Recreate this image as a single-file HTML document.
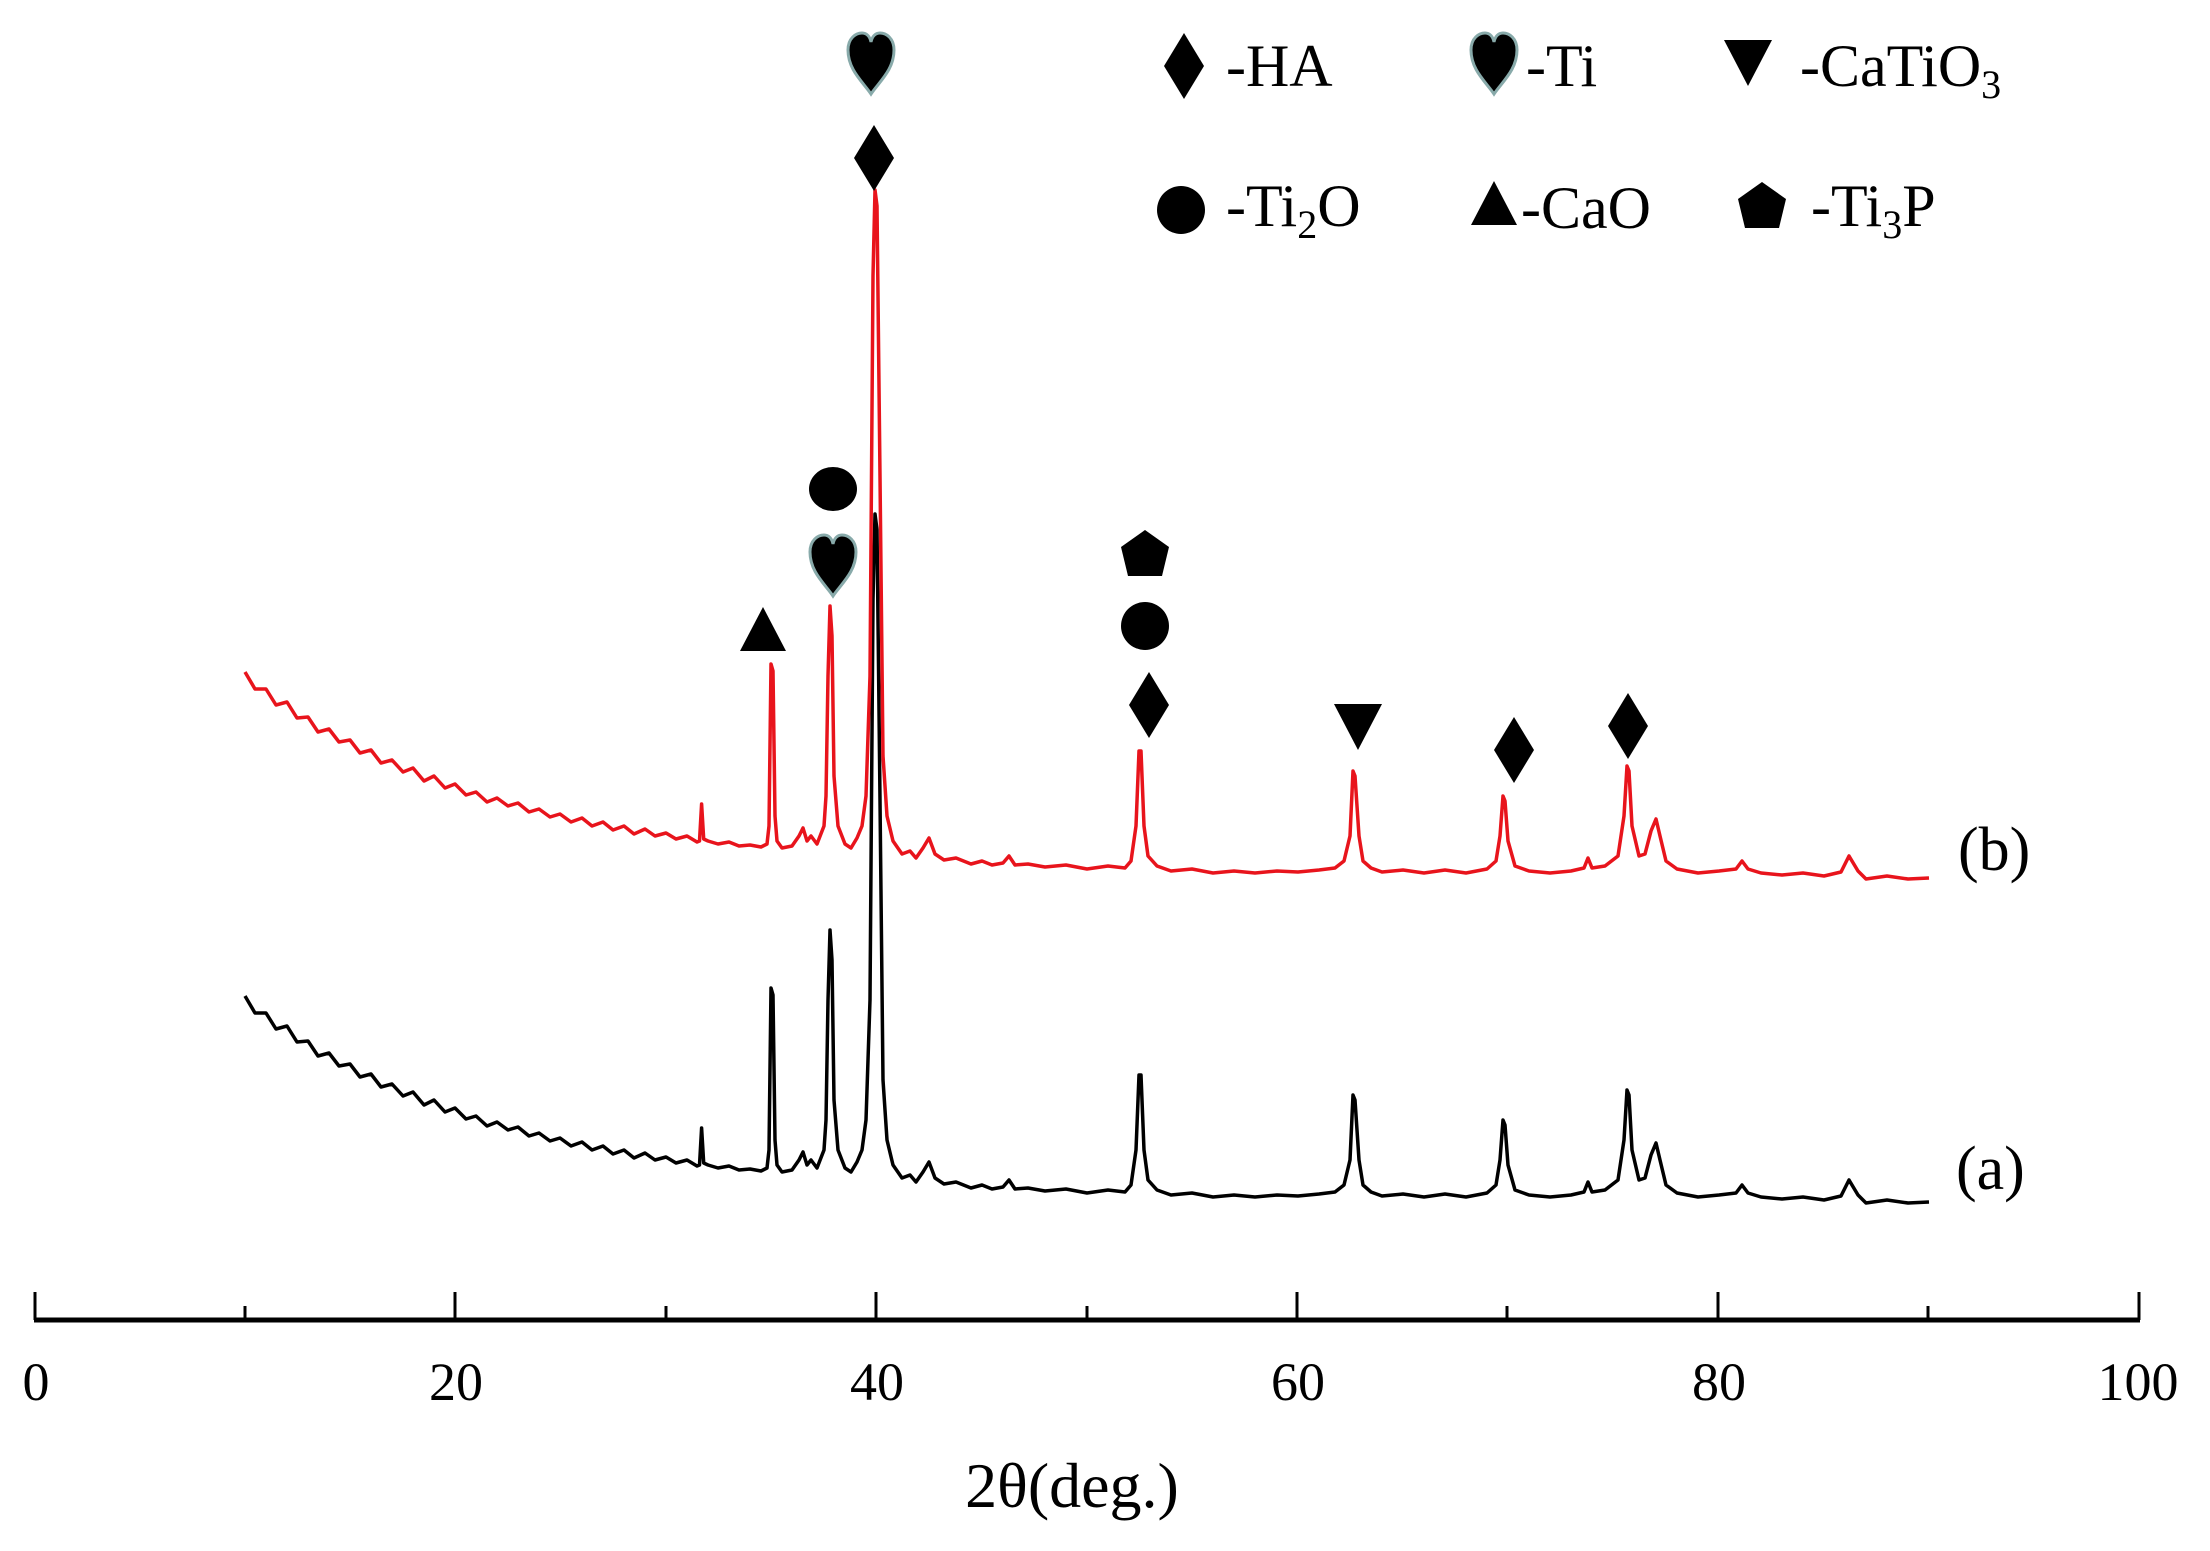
<!DOCTYPE html>
<html><head><meta charset="utf-8"><style>
html,body{margin:0;padding:0;background:#fff}
svg{display:block}
text{font-family:"Liberation Serif",serif;fill:#000}
</style></head><body>
<svg width="2210" height="1551" viewBox="0 0 2210 1551" xmlns="http://www.w3.org/2000/svg">
<defs>
<path id="heart" d="M0,30 C-8,18 -23,6 -23,-14 C-23,-26 -15,-31 -9,-31 C-4,-31 -1,-27 0,-22 C1,-27 4,-31 9,-31 C15,-31 23,-26 23,-14 C23,6 8,18 0,30 Z"/>
<path id="dia" d="M0,-33 L20,0 L0,33 L-20,0 Z"/>
<path id="tup" d="M0,-23 L23,21 L-23,21 Z"/>
<path id="tdn" d="M-24,-22 L24,-22 L0,24 Z"/>
<path id="pent" d="M0,-24 L24,-7 L17,22 L-17,22 L-24,-7 Z"/>
<path id="xrd" fill="none" stroke-width="3.5" stroke-linejoin="round" d="M245,996 L255,1013 L266,1013 L276,1029 L287,1026 L297,1042 L308,1041 L318,1056 L329,1053 L339,1066 L350,1064 L360,1077 L371,1074 L381,1087 L392,1084 L403,1096 L413,1092 L424,1105 L434,1100 L445,1112 L455,1108 L466,1119 L476,1116 L487,1126 L497,1122 L508,1130 L518,1127 L529,1136 L539,1133 L550,1141 L560,1138 L571,1146 L582,1142 L592,1150 L603,1146 L613,1154 L624,1150 L634,1158 L645,1153 L655,1160 L666,1157 L676,1163 L687,1160 L697,1166 L699.5,1165 L701.6,1128 L703.7,1163 L708,1165 L718,1168 L729,1166 L739,1170 L750,1169 L761,1171 L767,1168 L769,1150 L771,988 L773,995 L775,1140 L777,1165 L782,1172 L792,1170 L799,1160 L803,1152 L807,1165 L811,1160 L817,1168 L824,1150 L826,1120 L828,1000 L830,930 L832,960 L834,1100 L838,1150 L845,1168 L851,1172 L857,1162 L862,1150 L866,1120 L870,1000 L873,600 L875,514 L877,530 L880,800 L883,1080 L887,1140 L893,1165 L902,1178 L910,1175 L916,1182 L923,1172 L929,1162 L935,1178 L944,1184 L956,1182 L971,1188 L982,1185 L992,1189 L1003,1187 L1009,1180 L1015,1189 L1028,1188 L1045,1191 L1066,1189 L1087,1193 L1108,1190 L1125,1192 L1131,1185 L1136,1150 L1139,1075 L1141,1075 L1144,1150 L1148,1180 L1157,1190 L1171,1195 L1192,1193 L1213,1197 L1234,1195 L1255,1197 L1277,1195 L1298,1196 L1319,1194 L1335,1192 L1344,1185 L1350,1160 L1353,1095 L1355,1100 L1359,1160 L1363,1185 L1371,1192 L1382,1196 L1403,1194 L1424,1197 L1445,1194 L1466,1197 L1487,1193 L1496,1185 L1500,1160 L1503,1120 L1505,1125 L1508,1165 L1515,1190 L1529,1195 L1550,1197 L1571,1195 L1584,1192 L1588,1182 L1592,1192 L1605,1190 L1618,1180 L1624,1140 L1627,1090 L1629,1095 L1632,1150 L1639,1180 L1645,1178 L1651,1155 L1656,1143 L1660,1160 L1666,1185 L1677,1193 L1698,1197 L1719,1195 L1736,1193 L1742,1185 L1748,1193 L1761,1197 L1782,1199 L1803,1197 L1824,1200 L1841,1196 L1849,1180 L1858,1195 L1866,1203 L1887,1200 L1908,1203 L1929,1202"/>
</defs>
<use href="#xrd" stroke="#000"/>
<use href="#xrd" stroke="#e8141c" transform="translate(0,-324)"/>
<line x1="34" y1="1320" x2="2140" y2="1320" stroke="#000" stroke-width="5"/>
<g stroke="#000" stroke-width="3">
<line x1="35" y1="1292" x2="35" y2="1320"/><line x1="455" y1="1292" x2="455" y2="1320"/>
<line x1="876" y1="1292" x2="876" y2="1320"/><line x1="1297" y1="1292" x2="1297" y2="1320"/>
<line x1="1718" y1="1292" x2="1718" y2="1320"/><line x1="2139" y1="1292" x2="2139" y2="1320"/>
<line x1="245" y1="1306" x2="245" y2="1320"/><line x1="666" y1="1306" x2="666" y2="1320"/>
<line x1="1087" y1="1306" x2="1087" y2="1320"/><line x1="1507" y1="1306" x2="1507" y2="1320"/>
<line x1="1928" y1="1306" x2="1928" y2="1320"/>
</g>
<g font-size="54" text-anchor="middle">
<text x="36" y="1400">0</text><text x="456" y="1400">20</text><text x="877" y="1400">40</text>
<text x="1298" y="1400">60</text><text x="1719" y="1400">80</text><text x="2138" y="1400">100</text>
</g>
<text x="1072" y="1507" font-size="64" text-anchor="middle">2θ(deg.)</text>
<text x="1958" y="870" font-size="62">(b)</text>
<text x="1956" y="1189" font-size="62">(a)</text>
<g fill="#000">
<use href="#dia" x="1184" y="66"/>
<use href="#heart" x="1494" y="64" stroke="#8aa" stroke-width="3"/>
<use href="#tdn" x="1748" y="62"/>
<ellipse cx="1181" cy="210" rx="24" ry="24"/>
<use href="#tup" x="1494" y="204"/>
<use href="#pent" x="1762" y="206"/>
</g>
<g font-size="60">
<text x="1226" y="86">-HA</text>
<text x="1526" y="86">-Ti</text>
<text x="1800" y="86">-CaTiO<tspan font-size="40" dy="12">3</tspan></text>
<text x="1226" y="226">-Ti<tspan font-size="40" dy="12">2</tspan><tspan dy="-12">O</tspan></text>
<text x="1521" y="228">-CaO</text>
<text x="1811" y="226">-Ti<tspan font-size="40" dy="12">3</tspan><tspan dy="-12">P</tspan></text>
</g>
<g fill="#000">
<use href="#heart" x="871" y="64" stroke="#8aa" stroke-width="3"/>
<use href="#dia" x="874" y="158"/>
<ellipse cx="833" cy="489" rx="24" ry="22"/>
<use href="#heart" x="833" y="566" stroke="#8aa" stroke-width="3"/>
<use href="#tup" x="763" y="630"/>
<use href="#pent" x="1145" y="554"/>
<ellipse cx="1145" cy="626" rx="24" ry="24"/>
<use href="#dia" x="1149" y="705"/>
<use href="#tdn" x="1358" y="726"/>
<use href="#dia" x="1514" y="750"/>
<use href="#dia" x="1628" y="726"/>
</g>
</svg>
</body></html>
